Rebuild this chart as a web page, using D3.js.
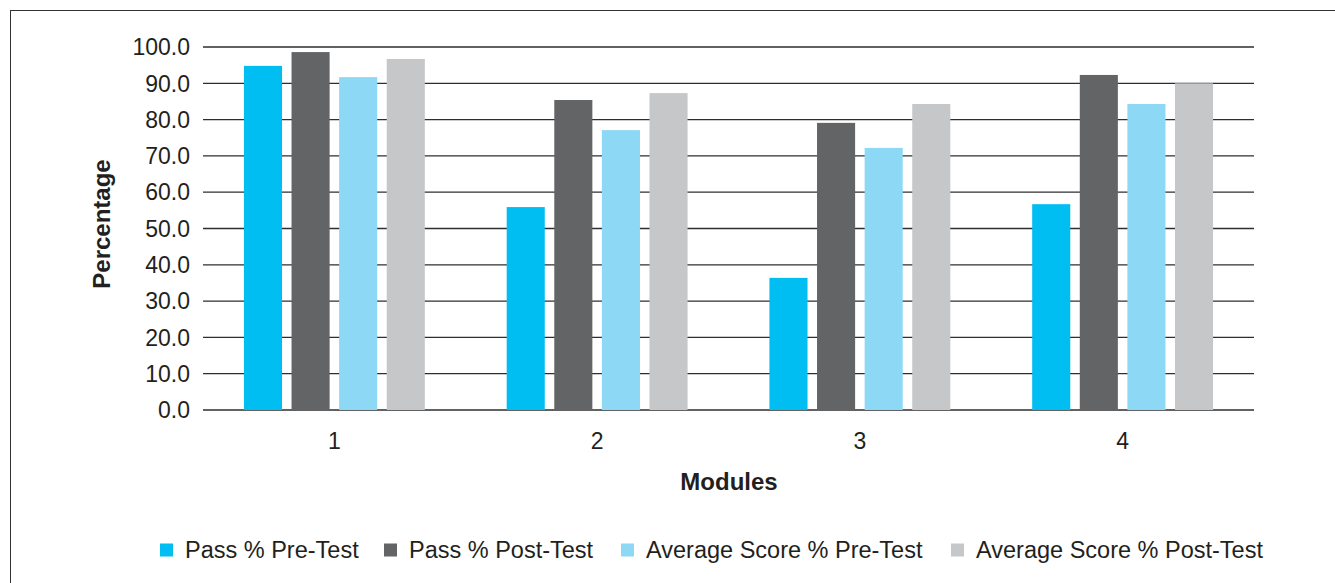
<!DOCTYPE html>
<html><head><meta charset="utf-8">
<script src="https://cdn.jsdelivr.net/npm/d3@7"></script>
<style>body{margin:0;background:#fff}svg{display:block}text{font-family:"Liberation Sans",Arial,sans-serif;fill:#231f20}</style>
</head><body>
<svg id="c" width="1335" height="583"></svg>
<script>
const modules = ["1","2","3","4"];
const seriesNames = ["Pass % Pre-Test","Pass % Post-Test","Average Score % Pre-Test","Average Score % Post-Test"];
const passPre  = [94.8, 55.9, 36.4, 56.7];
const passPost = [98.6, 85.4, 79.1, 92.3];
const avgPre   = [91.7, 77.1, 72.2, 84.3];
const avgPost  = [96.7, 87.3, 84.3, 90.0];
const yTicks = [0,10,20,30,40,50,60,70,80,90,100];
const colors = ["#00bdf2","#636466","#8dd8f5","#c6c7c9"];
const seriesValues = [passPre, passPost, avgPre, avgPost];

const svg = d3.select("#c");
svg.append("rect").attr("x",10.5).attr("y",10.5).attr("width",1400).attr("height",700)
  .attr("fill","none").attr("stroke","#333").attr("stroke-width",1);

const x0 = d3.scaleBand().domain(modules).range([203,1254]).padding(0);
const x1 = d3.scaleBand().domain(seriesNames).range([0,x0.bandwidth()]).paddingInner(0.2).paddingOuter(0.86);
const y = d3.scaleLinear().domain([0,100]).range([410,47]);

// gridlines
svg.append("g").selectAll("line").data(yTicks).join("line")
  .attr("x1",203).attr("x2",1254).attr("y1",d=>y(d)).attr("y2",d=>y(d))
  .attr("stroke","#2e2e2e").attr("stroke-width",1.3);

// y labels
svg.append("g").selectAll("text").data(yTicks).join("text")
  .attr("x",190).attr("y",d=>y(d)).attr("dy","0.36em").attr("text-anchor","end")
  .style("font-size","23px").text(d=>d.toFixed(1));

// bars
const rows = [];
modules.forEach((m,i)=>seriesNames.forEach((s,j)=>rows.push({m,s,v:seriesValues[j][i],c:colors[j]})));
svg.append("g").selectAll("rect").data(rows).join("rect")
  .attr("x",d=>x0(d.m)+x1(d.s)).attr("width",x1.bandwidth())
  .attr("y",d=>y(d.v)).attr("height",d=>y(0)-y(d.v)).attr("fill",d=>d.c);

// x labels
svg.append("g").selectAll("text").data(modules).join("text")
  .attr("x",d=>x0(d)+x0.bandwidth()/2).attr("y",449).attr("text-anchor","middle")
  .style("font-size","23px").text(d=>d);

svg.append("text").attr("x",729).attr("y",490).attr("text-anchor","middle")
  .style("font-size","24px").style("font-weight","bold").text("Modules");
svg.append("text").attr("transform","translate(110,224) rotate(-90)").attr("text-anchor","middle")
  .style("font-size","24px").style("font-weight","bold").text("Percentage");

// legend
const legendX = [160, 384, 621, 951];
const lg = svg.append("g").selectAll("g").data(seriesNames).join("g")
  .attr("transform",(d,i)=>`translate(${legendX[i]},550)`);
lg.append("rect").attr("x",0).attr("y",-6.5).attr("width",13).attr("height",13).attr("fill",(d,i)=>colors[i]);
lg.append("text").attr("x",25).attr("y",8.3).style("font-size","23.5px").text(d=>d);
</script>
</body></html>
